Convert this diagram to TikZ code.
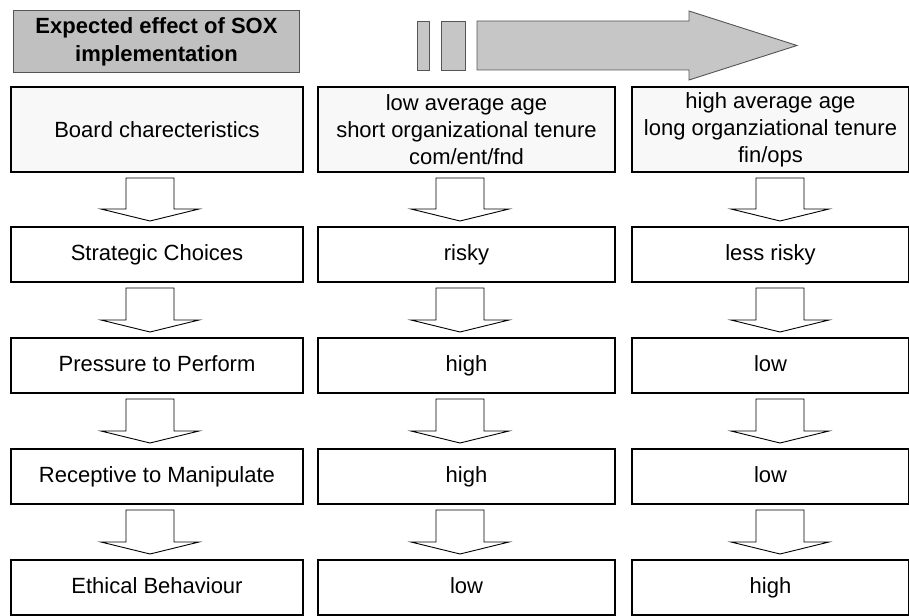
\documentclass[tikz,border=0pt]{standalone}
\usepackage{fontspec}
\setmainfont{Liberation Sans}
\usetikzlibrary{positioning,calc}
\definecolor{HeadGray}{RGB}{192,192,192}
\definecolor{BandGray}{RGB}{198,198,198}
\definecolor{EdgeGray}{RGB}{85,85,85}
\definecolor{TopFill}{RGB}{248,248,248}
\tikzset{
  box/.style={draw=black,line width=2pt,fill=white,inner sep=0pt,
    align=center,anchor=north west},
  cell/.style={box,minimum height=55pt,text height=16pt,text depth=5pt},
  topcell/.style={box,fill=TopFill,minimum height=85pt},
  colL/.style={minimum width=292pt},
  colM/.style={minimum width=297pt},
  colR/.style={minimum width=277pt},
  title/.style={draw=EdgeGray,fill=HeadGray,line width=1pt,inner sep=0pt,
    minimum width=286pt,minimum height=62pt,align=center,anchor=north west,
    font=\fontsize{22}{28}\selectfont\bfseries},
  band/.style={draw=EdgeGray,fill=BandGray,line width=0.9pt},
  blockarr/.style={draw=black,fill=white,line width=0.9pt},
}
% hollow block arrow from one cell down to the next, #3 = x shift of its axis
\newcommand{\dnarrow}[3]{%
  \draw[blockarr] let \p1=(#1.south), \p2=(#2.north) in
    ({\x1+(#3pt)-24pt},{\y1-5pt}) -- ({\x1+(#3pt)+24pt},{\y1-5pt})
    -- ({\x1+(#3pt)+24pt},{\y2+17pt}) -- ({\x1+(#3pt)+49pt},{\y2+17pt})
    -- ({\x1+(#3pt)},{\y2+5pt}) -- ({\x1+(#3pt)-49pt},{\y2+17pt})
    -- ({\x1+(#3pt)-24pt},{\y2+17pt}) -- cycle;}

\begin{document}
\begin{tikzpicture}[x=1pt,y=-1pt,font=\fontsize{22}{27}\selectfont]
\useasboundingbox (0,0) rectangle (909,615);

% heading and the broken arrow
\node[title] (sox) at (13,10) {Expected effect of SOX\\implementation};
\draw[band] (417,21) rectangle (429,70);
\draw[band] (441,21) rectangle (465,70);
\draw[band] (477,21) -- (689,21) -- (689,11) -- (797,45.5) -- (689,80)
  -- (689,70) -- (477,70) -- cycle;

% left column
\node[topcell,colL] (board) at (10,86) {Board charecteristics};
\node[cell,colL] (strategic) at (10,226) {Strategic Choices};
\node[cell,colL] (pressure) at (10,337) {Pressure to Perform};
\node[cell,colL] (receptive) at (10,448) {Receptive to Manipulate};
\node[cell,colL] (ethical) at (10,559) {Ethical Behaviour};

% middle column
\node[topcell,colM] (lowage) at (317,86)
  {low average age\\short organizational tenure\\com/ent/fnd};
\node[cell,colM] (risky) at (317,226) {risky};
\node[cell,colM] (highpress) at (317,337) {high};
\node[cell,colM] (highrecep) at (317,448) {high};
\node[cell,colM] (lowethic) at (317,559) {low};

% right column
\node[topcell,colR] (highage) at (631,86)
  {high average age\\long organziational tenure\\fin/ops};
\node[cell,colR] (lessrisky) at (631,226) {less risky};
\node[cell,colR] (lowpress) at (631,337) {low};
\node[cell,colR] (lowrecep) at (631,448) {low};
\node[cell,colR] (highethic) at (631,559) {high};

% arrows between the rows
\foreach \from/\to/\dx in {board/strategic/-7,strategic/pressure/-7,
    pressure/receptive/-7,receptive/ethical/-7,
    lowage/risky/-6.5,risky/highpress/-6.5,
    highpress/highrecep/-6.5,highrecep/lowethic/-6.5,
    highage/lessrisky/9.5,lessrisky/lowpress/9.5,
    lowpress/lowrecep/9.5,lowrecep/highethic/9.5}
  \dnarrow{\from}{\to}{\dx};
\end{tikzpicture}
\end{document}
